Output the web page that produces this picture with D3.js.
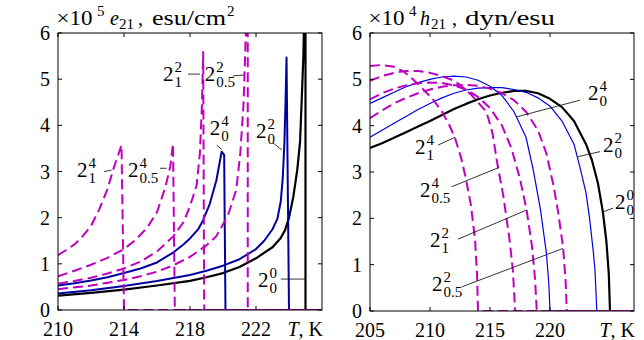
<!DOCTYPE html>
<html>
<head>
<meta charset="utf-8">
<script src="https://cdn.jsdelivr.net/npm/d3@7"></script>
<style>
body { margin: 0; background: #fff; }
text { font-family: "Liberation Serif", "Times New Roman", serif; fill: #000; }
</style>
</head>
<body>
<svg id="chart" width="644" height="340"></svg>
<script>
// ---- left panel: e21 (x1e5 esu/cm^2) vs T, K ----
var eTicksX = [210, 214, 218, 222];
var e00 = [[210,0.31],[212,0.37],[214,0.44],[216,0.53],[218,0.63],[219,0.71],[220,0.8],[221,0.93],[222,1.12],[223,1.36],[223.5,1.56],[223.76,1.73],[224,2.0],[224.26,2.45],[224.5,3.03],[224.67,3.64],[224.77,4.55],[224.87,5.48],[224.93,6.5],[225.0,6.5],[225.0,0],[226,0]];
var e02 = [[210,0.36],[212,0.43],[214,0.52],[216,0.63],[218,0.76],[219,0.85],[220,0.96],[221,1.1],[222,1.32],[222.5,1.5],[223,1.75],[223.3,1.98],[223.5,2.35],[223.62,2.85],[223.72,3.6],[223.79,4.5],[223.85,5.47],[224.0,0],[226,0]];
var e04 = [[210,0.53],[211,0.58],[212,0.64],[213,0.71],[214,0.8],[215,0.9],[216,1.03],[217,1.25],[217.6,1.42],[218,1.55],[218.5,1.75],[218.8,1.95],[219.2,2.3],[219.6,2.81],[219.8,3.2],[219.92,3.43],[220.07,3.36],[220.15,0],[226,0]];
var e14 = [[210,1.19],[210.5,1.3],[211,1.42],[211.5,1.6],[212,1.82],[212.5,2.18],[213,2.62],[213.4,3.1],[213.85,3.57],[214.0,0],[226,0]];
var e054 = [[210,0.73],[211,0.85],[212,0.98],[213,1.13],[214,1.32],[214.7,1.52],[215.4,1.78],[216,2.12],[216.5,2.65],[216.8,3.1],[216.97,3.6],[217.08,0],[226,0]];
var e12 = [[210,0.57],[211,0.63],[212,0.7],[213,0.79],[214,0.9],[215,1.05],[216,1.27],[217,1.6],[217.6,1.9],[218,2.25],[218.4,2.7],[218.6,3.4],[218.72,4.4],[218.8,5.59],[218.86,0],[226,0]];
var e052 = [[210,0.45],[212,0.53],[214,0.65],[215,0.73],[216,0.83],[217,0.97],[218,1.15],[219,1.4],[219.6,1.6],[220.3,2.05],[220.8,2.6],[221.05,3.4],[221.25,4.5],[221.43,6.5],[221.5,6.5],[221.5,0],[226,0]];
var eLabels = [
  {T:211.15, v:3.03, sup:"4", sub:"1",   l:[[212.8,3.0],[213.25,3.03]]},
  {T:214.24, v:3.03, sup:"4", sub:"0.5", l:[[216.18,3.07],[216.59,3.07]]},
  {T:216.36, v:5.12, sup:"2", sub:"1",   l:[[217.88,5.11],[218.6,5.11]]},
  {T:218.9,  v:5.12, sup:"2", sub:"0.5", l:[[220.6,5.07],[221.27,5.09]]},
  {T:219.2,  v:3.94, sup:"4", sub:"0",   l:[[219.62,3.57],[219.92,3.48]]},
  {T:222.0,  v:3.88, sup:"2", sub:"0",   l:[[223.03,3.62],[223.56,3.47]]},
  {T:222.12, v:0.65, sup:"0", sub:"0",   l:[[223.5,0.67],[224.97,0.67]]}
];

// ---- right panel: h21 (x1e4 dyn/esu) vs T, K ----
var hTicksX = [205, 210, 215, 220];
var h00 = [[205,3.52],[206,3.62],[207,3.74],[208,3.86],[209,3.98],[210,4.1],[211,4.23],[212,4.36],[213,4.47],[214,4.57],[215,4.65],[216,4.71],[217,4.75],[218,4.75],[219,4.7],[220,4.58],[221,4.4],[222,4.1],[223,3.6],[223.5,3.25],[224,2.75],[224.4,2.15],[224.7,1.5],[224.9,0.8],[225.0,0],[227,0]];
var h02 = [[205,3.75],[206,3.9],[207,4.05],[208,4.2],[209,4.35],[210,4.48],[211,4.6],[212,4.7],[213,4.77],[214,4.81],[215,4.82],[216,4.82],[217,4.78],[218,4.72],[219,4.6],[220,4.42],[221,4.1],[222,3.6],[222.5,3.1],[223,2.55],[223.3,2.0],[223.6,1.3],[223.75,0.88],[223.9,0],[227,0]];
var h04 = [[205,4.48],[206,4.6],[207,4.72],[208,4.84],[209,4.93],[210,5.0],[211,5.05],[212,5.07],[213,5.05],[214,4.98],[215,4.85],[216,4.65],[217,4.3],[218,3.75],[218.6,3.05],[219.2,2.2],[219.7,1.25],[219.9,0.6],[220.0,0],[227,0]];
var h14 = [[205,5.29],[206,5.31],[207,5.27],[207.8,5.17],[208.5,5.02],[209.3,4.82],[210.3,4.55],[211,4.3],[211.6,4.02],[212.1,3.72],[212.6,3.3],[213,2.85],[213.4,2.3],[213.75,1.55],[213.92,0.8],[214.0,0],[227,0]];
var h054 = [[205,4.97],[206,5.07],[207,5.14],[208,5.18],[209,5.18],[210,5.14],[211,5.07],[212,4.97],[212.5,4.88],[213.5,4.65],[214.7,4.3],[215.2,3.85],[215.6,3.2],[216.1,2.5],[216.6,1.6],[216.9,0.9],[217.1,0],[227,0]];
var h12 = [[205,4.57],[206,4.7],[207,4.8],[208,4.87],[209,4.92],[210,4.93],[211,4.92],[212,4.87],[213,4.78],[214,4.62],[215,4.38],[216,4.0],[216.8,3.5],[217.5,2.85],[218.05,2.18],[218.5,1.4],[218.75,0.7],[218.9,0],[227,0]];
var h052 = [[205,4.16],[206,4.33],[207,4.48],[208,4.6],[209,4.7],[210,4.78],[211,4.84],[212,4.87],[213,4.88],[214,4.86],[215,4.8],[216,4.7],[217,4.55],[218,4.3],[219,3.9],[219.7,3.4],[220.3,2.7],[220.7,2.1],[221.1,1.35],[221.3,0.65],[221.4,0],[227,0]];
var hLabels = [
  {T:223.17, v:4.7,  sup:"4", sub:"0",   l:[[222.5,4.55],[217.22,4.19]]},
  {T:224.42, v:3.58, sup:"2", sub:"0",   l:[[224.17,3.44],[222.33,3.33]]},
  {T:225.42, v:2.36, sup:"0", sub:"0",   l:[[225.25,2.22],[224.42,2.14]]},
  {T:208.75, v:3.55, sup:"4", sub:"1",   l:[[210.67,3.58],[212.08,3.75]]},
  {T:209.17, v:2.61, sup:"4", sub:"0.5", l:[[211.8,2.68],[215.67,3.09]]},
  {T:210.0,  v:1.53, sup:"2", sub:"1",   l:[[212.33,1.55],[218.06,2.18]]},
  {T:210.17, v:0.59, sup:"2", sub:"0.5", l:[[212.64,0.52],[221.08,1.35]]}
];

var yTicks = [0, 1, 2, 3, 4, 5, 6];
var magenta = "#c000c0";

var svg = d3.select("#chart");

function txt(g, x, y, size, s) {
  return g.append("text").attr("x", x).attr("y", y).style("font-size", size + "px").text(s);
}

function drawPanel(p) {
  var x = d3.scaleLinear().domain(p.xDomain).range(p.xRange);
  var y = d3.scaleLinear().domain([0, 6]).range(p.yRange);
  var x0 = p.xRange[0];
  var w = p.xRange[1] - p.xRange[0], h = p.yRange[0] - p.yRange[1];

  var g = svg.append("g");
  g.append("clipPath").attr("id", p.id + "clip")
    .append("rect").attr("x", x0).attr("y", p.yRange[1]).attr("width", w).attr("height", h);

  var line = d3.line().x(function(d) { return x(d[0]); }).y(function(d) { return y(d[1]); });

  var curves = g.append("g").attr("clip-path", "url(#" + p.id + "clip)");
  p.series.forEach(function(s) {
    curves.append("path")
      .datum(s.data)
      .attr("d", line)
      .attr("fill", "none")
      .attr("stroke", s.color)
      .attr("stroke-width", s.width)
      .attr("stroke-dasharray", s.dash ? "10,5" : null)
      .attr("stroke-linejoin", "round");
  });

  // box and ticks (inside, on all four sides)
  g.append("rect").attr("x", x0).attr("y", p.yRange[1]).attr("width", w).attr("height", h)
    .attr("fill", "none").attr("stroke", "#000").attr("stroke-width", 1);
  var tl = 4;
  p.xTicks.forEach(function(t) {
    g.append("line").attr("x1", x(t)).attr("x2", x(t)).attr("y1", p.yRange[0]).attr("y2", p.yRange[0] - tl).attr("stroke", "#000");
    g.append("line").attr("x1", x(t)).attr("x2", x(t)).attr("y1", p.yRange[1]).attr("y2", p.yRange[1] + tl).attr("stroke", "#000");
    txt(g, x(t), p.yRange[0] + 26, 20, t).attr("text-anchor", "middle");
  });
  yTicks.forEach(function(t) {
    g.append("line").attr("x1", x0).attr("x2", x0 + tl).attr("y1", y(t)).attr("y2", y(t)).attr("stroke", "#000");
    g.append("line").attr("x1", p.xRange[1]).attr("x2", p.xRange[1] - tl).attr("y1", y(t)).attr("y2", y(t)).attr("stroke", "#000");
    txt(g, x0 - 8, y(t) + 7, 20, t).attr("text-anchor", "end");
  });

  // axis label T, K
  var xl = g.append("text").attr("x", p.xRange[1] + 1).attr("y", p.yRange[0] + 26).attr("text-anchor", "end").style("font-size", "20px");
  xl.append("tspan").style("font-style", "italic").text("T");
  xl.append("tspan").text(", K");

  // title pieces
  txt(g, x0 - 1.5, 25, 20, "\u00d710").attr("textLength", 36).attr("lengthAdjust", "spacingAndGlyphs");
  txt(g, x0 + 39, 16, 15, p.pow);
  txt(g, x0 + p.symX, 25, 20, p.sym).style("font-style", "italic");
  txt(g, x0 + p.symX + p.subDx, 29, 15, "21");
  txt(g, x0 + p.commaX, 25, 20, ",");
  txt(g, x0 + p.unitX, 25, 20, p.unit).attr("textLength", p.unitW).attr("lengthAdjust", "spacingAndGlyphs");
  if (p.unitPow) txt(g, x0 + p.unitX + p.unitW + 1, 16, 15, p.unitPow);

  // curve labels with leaders
  p.labels.forEach(function(d) {
    g.append("line").attr("x1", x(d.l[0][0])).attr("y1", y(d.l[0][1]))
      .attr("x2", x(d.l[1][0])).attr("y2", y(d.l[1][1]))
      .attr("stroke", "#000").attr("stroke-width", 0.8);
    var px = x(d.T), py = y(d.v);
    txt(g, px, py + 7, 21, "2");
    txt(g, px + 11.5, py - 2, 15, d.sup);
    txt(g, px + 11.5, py + 13, 15, d.sub);
  });
}

drawPanel({
  id: "e", xDomain: [210, 226], xRange: [58, 322], yRange: [310, 33], xTicks: eTicksX,
  pow: "5", sym: "e", symX: 52, subDx: 9, commaX: 80, unit: "esu/cm", unitX: 94, unitW: 74, unitPow: "2",
  series: [
    {data: e00, color: "#000", width: 2.2},
    {data: e02, color: "#0000a0", width: 2},
    {data: e04, color: "#0000a0", width: 2},
    {data: e14, color: magenta, width: 2, dash: true},
    {data: e054, color: magenta, width: 2, dash: true},
    {data: e12, color: magenta, width: 2, dash: true},
    {data: e052, color: magenta, width: 2, dash: true}
  ],
  labels: eLabels
});

drawPanel({
  id: "h", xDomain: [205, 227], xRange: [370, 634], yRange: [311, 33], xTicks: hTicksX,
  pow: "4", sym: "h", symX: 50, subDx: 11, commaX: 82, unit: "dyn/esu", unitX: 95, unitW: 90, unitPow: null,
  series: [
    {data: h00, color: "#000", width: 2.2},
    {data: h02, color: "#0000e0", width: 1.2},
    {data: h04, color: "#0000e0", width: 1.2},
    {data: h14, color: magenta, width: 2, dash: true},
    {data: h054, color: magenta, width: 2, dash: true},
    {data: h12, color: magenta, width: 2, dash: true},
    {data: h052, color: magenta, width: 2, dash: true}
  ],
  labels: hLabels
});
</script>
</body>
</html>
